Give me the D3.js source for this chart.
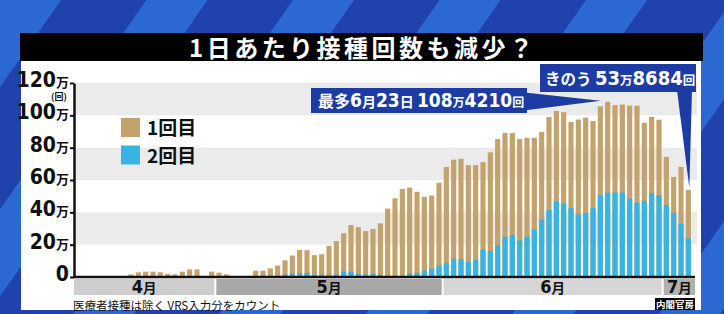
<!DOCTYPE html>
<html>
<head>
    <meta charset="utf-8">
    <title>1日あたり接種回数</title>
    <script src="https://cdn.jsdelivr.net/npm/d3@7"></script>
    <style>
        html, body { margin: 0; padding: 0; background: #1f42ad; }
        svg { display: block; }
        text { font-family: "Noto Sans CJK JP", sans-serif; }
        .num { font-family: "Liberation Sans Narrow", "DejaVu Sans Condensed", sans-serif; font-weight: bold; }
    </style>
</head>
<body>
<svg id="chart" width="724" height="314"></svg>
<script>
// values in 万回 (10,000 doses), one per day from 4/19 to 7/4
var total = [
    1.6, 2.9, 3.3, 3.3, 2.9, 1.9, 1.6, 3.3, 4.7, 4.7, 0.6, 3.3,
    2.7, 1.6, 0.2, 0.2, 0.2, 3.9, 3.9, 5.3, 7.1, 10.3, 13.3, 16.8, 16.6, 13.5, 14.1, 19.3, 22.2, 27.1, 32.2,
    30.8, 28.4, 29.7, 33.2, 42.3, 48.7, 54.5, 55.3, 52.7, 49.6, 50.4, 58.3,
    68.0, 72.6, 73.1, 69.2, 69.2, 71.0, 77.1, 85.3, 89.1, 89.0, 85.3, 86.1, 86.1, 89.8, 99.0,
    102.7, 102.0, 95.9, 97.4, 98.6, 96.5, 105.6, 108.4, 106.3, 106.7, 106.0, 106.0, 95.4, 99.0, 97.3,
    74.3, 61.9, 68.1, 53.9
];
var dose2 = [
    0, 0, 0, 0, 0, 0, 0, 0, 0, 0, 0, 0,
    0, 0, 0, 0, 0, 0, 0, 0, 0, 1.5, 2.0, 2.5, 2.5, 1.5, 1.5, 1.2, 1.5, 3.3, 3.3,
    2.0, 1.5, 2.0, 1.3, 0.3, 0.3, 0.5, 2.4, 2.6, 3.9, 5.2, 7.1,
    8.6, 11.3, 11.0, 9.3, 10.7, 16.7, 16.0, 19.8, 24.9, 25.9, 22.6, 24.9, 29.5, 35.6, 41.4,
    46.9, 45.5, 42.5, 38.7, 39.5, 42.6, 50.6, 52.2, 52.2, 52.2, 48.5, 46.0, 47.0, 52.0, 50.6,
    44.5, 39.7, 33.0, 24.0
];
var yTicks = [0, 20, 40, 60, 80, 100, 120];
var months = ["4月", "5月", "6月", "7月"];
var monthFirst = ["04-01", "05-01", "06-01", "07-01"];
var seriesNames = ["1回目", "2回目"];

var axisStart = new Date(2021, 3, 12), axisEnd = new Date(2021, 6, 5), dataStart = new Date(2021, 3, 19);
var fmt = d3.timeFormat("%m-%d");
var days = d3.timeDay.range(axisStart, axisEnd).map(fmt);
var dates = d3.timeDay.range(dataStart, axisEnd).map(fmt);

var tan = "#c4a26c", blue = "#38b4e2", navy = "#1d3ca3";

var svg = d3.select("#chart");
var defs = svg.append("defs");
var pat = defs.append("pattern").attr("id", "stripes")
    .attr("patternUnits", "userSpaceOnUse").attr("width", 120).attr("height", 10)
    .attr("patternTransform", "rotate(35)");
pat.append("rect").attr("width", 120).attr("height", 10).attr("fill", "#1f42ad");
pat.append("rect").attr("width", 50).attr("height", 10).attr("fill", "#2b68d2");

svg.append("rect").attr("width", 724).attr("height", 314).attr("fill", "url(#stripes)");

// title bar
svg.append("rect").attr("x", 20).attr("y", 33).attr("width", 683).attr("height", 28).attr("fill", "#000");
svg.append("text").attr("x", 361).attr("y", 56.5).attr("text-anchor", "middle")
    .attr("fill", "#fff").attr("font-size", 24).attr("font-weight", "bold")
    .attr("textLength", 344).attr("lengthAdjust", "spacing")
    .text("1日あたり接種回数も減少？");

// white panel
svg.append("rect").attr("x", 21).attr("y", 61).attr("width", 680).attr("height", 249).attr("fill", "#fff");

var x = d3.scaleBand().domain(days).range([76, 692]).paddingInner(0.3).paddingOuter(0.15);
var y = d3.scaleLinear().domain([0, 120]).range([277, 83]);
function edge(d) { return x(d) - x.step() * 0.15; }

// grey bands
[[20, 40], [60, 80], [100, 120]].forEach(function (b) {
    svg.append("rect").attr("x", 75).attr("width", 622)
        .attr("y", y(b[1])).attr("height", y(b[0]) - y(b[1])).attr("fill", "#ebebeb");
});

// bars
var bars = svg.append("g");
bars.selectAll("rect.d1").data(dates).enter().append("rect")
    .attr("x", function (d) { return x(d); }).attr("width", x.bandwidth())
    .attr("y", function (d, i) { return y(total[i]); })
    .attr("height", function (d, i) { return y(0) - y(total[i]); })
    .attr("fill", tan);
bars.selectAll("rect.d2").data(dates).enter().append("rect")
    .attr("x", function (d) { return x(d); }).attr("width", x.bandwidth())
    .attr("y", function (d, i) { return y(dose2[i]); })
    .attr("height", function (d, i) { return y(0) - y(dose2[i]); })
    .attr("fill", blue);

// y axis
var yAxis = svg.append("g").attr("transform", "translate(74,0)")
    .call(d3.axisLeft(y).tickValues(yTicks).tickSize(4).tickSizeOuter(0).tickFormat(""));
yAxis.select(".domain").attr("stroke", "#111").attr("stroke-width", 2.5);
yAxis.selectAll(".tick line").attr("stroke", "#111").attr("stroke-width", 2);
yAxis.selectAll(".tick").append("text")
    .attr("x", -5).attr("dy", "0.36em").attr("text-anchor", "end").attr("fill", "#111")
    .each(function (v) {
        var t = d3.select(this);
        t.append("tspan").attr("class", "num").attr("font-size", 21).text(v);
        if (v) t.append("tspan").attr("font-size", 13).attr("font-weight", "bold").text("万");
    });
svg.append("text").attr("x", 59).attr("y", 100).attr("text-anchor", "middle")
    .attr("font-size", 9).attr("font-weight", "bold").attr("fill", "#111").text("(回)");

// x baseline
svg.append("line").attr("x1", 73).attr("x2", 695).attr("y1", y(0)).attr("y2", y(0))
    .attr("stroke", "#111").attr("stroke-width", 2.5);

// month bands
var bandFill = ["#cdcdcd", "#a8a8a8", "#d6d6d6", "#b0b0b0"];
months.forEach(function (m, i) {
    var x0 = i === 0 ? 74 : edge(monthFirst[i]) + 1;
    var x1 = i === months.length - 1 ? 695 : edge(monthFirst[i + 1]) - 1;
    svg.append("rect").attr("x", x0).attr("y", 279).attr("width", x1 - x0).attr("height", 16).attr("fill", bandFill[i]);
    svg.append("text").attr("x", (x0 + x1) / 2).attr("y", 292.5).attr("text-anchor", "middle")
        .attr("font-size", 14).attr("font-weight", "bold").attr("fill", "#111")
        .call(function (t) {
            t.append("tspan").attr("class", "num").attr("font-size", 18).text(m.slice(0, -1));
            t.append("tspan").attr("font-size", 13.5).text("月");
        });
});

// legend
[tan, blue].forEach(function (c, i) {
    svg.append("rect").attr("x", 121).attr("y", 118 + i * 27.5).attr("width", 19).attr("height", 19).attr("fill", c);
    svg.append("text").attr("x", 147).attr("y", 135 + i * 27.5).attr("font-size", 19)
        .attr("font-weight", "bold").attr("fill", "#111").text(seriesNames[i]);
});

// callout: peak
var peak = "06-23", pi = dates.indexOf(peak);
var px = x(peak) + x.bandwidth() / 2, py = y(total[pi]);
svg.append("polygon").attr("fill", navy)
    .attr("points", [[520, 92], [px - 7, py - 1], [520, 111]].join(" "));
svg.append("rect").attr("x", 311).attr("y", 88).attr("width", 216).attr("height", 25).attr("fill", navy);
svg.append("text").attr("x", 318).attr("y", 107).attr("fill", "#fff").attr("font-weight", "bold")
    .call(function (t) {
        t.append("tspan").attr("font-size", 16).text("最多");
        t.append("tspan").attr("class", "num").attr("font-size", 19).text("6");
        t.append("tspan").attr("font-size", 14).text("月");
        t.append("tspan").attr("class", "num").attr("font-size", 19).text("23");
        t.append("tspan").attr("font-size", 14).text("日 ");
        t.append("tspan").attr("class", "num").attr("font-size", 19).text("108");
        t.append("tspan").attr("font-size", 12).text("万");
        t.append("tspan").attr("class", "num").attr("font-size", 19).text("4210");
        t.append("tspan").attr("font-size", 12).text("回");
    });

// callout: yesterday
var last = dates[dates.length - 1];
var lx = x(last) + x.bandwidth() / 2, ly = y(total[total.length - 1]);
svg.append("polygon").attr("fill", navy)
    .attr("points", [[677, 90], [692, 90], [lx + 1, ly - 2]].join(" "));
svg.append("rect").attr("x", 540).attr("y", 64).attr("width", 156).attr("height", 28).attr("fill", navy);
svg.append("text").attr("x", 545).attr("y", 84.5).attr("fill", "#fff").attr("font-weight", "bold")
    .call(function (t) {
        t.append("tspan").attr("font-size", 15.5).text("きのう ");
        t.append("tspan").attr("class", "num").attr("font-size", 20).text("53");
        t.append("tspan").attr("font-size", 12.5).text("万");
        t.append("tspan").attr("class", "num").attr("font-size", 20).text("8684");
        t.append("tspan").attr("font-size", 12.5).text("回");
    });

// footnotes
svg.append("text").attr("x", 73).attr("y", 309.5).attr("font-size", 11.5).attr("fill", "#111")
    .text("医療者接種は除く VRS入力分をカウント");
svg.append("rect").attr("x", 655).attr("y", 298).attr("width", 40).attr("height", 12).attr("fill", "#000");
svg.append("text").attr("x", 675).attr("y", 308).attr("text-anchor", "middle")
    .attr("font-size", 9.5).attr("font-weight", "bold").attr("fill", "#fff").text("内閣官房");
</script>
</body>
</html>
